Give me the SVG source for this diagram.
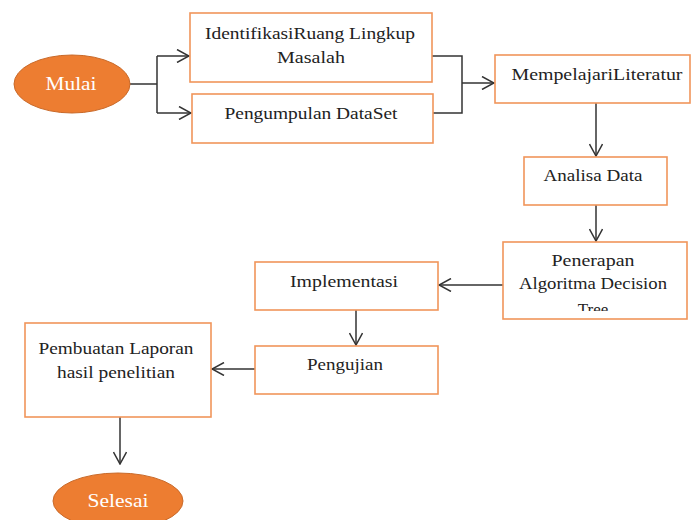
<svg xmlns="http://www.w3.org/2000/svg" width="692" height="520" viewBox="0 0 692 520">
<style>
.box{fill:#fff;stroke:#F1955A;stroke-width:1.6}
.term{fill:#ED7D31;stroke:#C96A2A;stroke-width:1}
.t{font-size:17px;fill:#222;text-anchor:middle}
.tw{font-size:19px;fill:#fff;text-anchor:middle}
.c{fill:none;stroke:#333;stroke-width:1.5}
</style>
<defs>
<marker id="ah" viewBox="0 0 14 14" refX="13" refY="7" markerWidth="14" markerHeight="14" markerUnits="userSpaceOnUse" orient="auto">
<path d="M1,0.5 L13,7 L1,13.5" fill="none" stroke="#333" stroke-width="1.5"/>
</marker>
<clipPath id="pclip"><rect x="503" y="242" width="184" height="69"/></clipPath>
</defs>
<g id="connectors">
<path class="c" d="M130,84 H157 M157,56 V113"/>
<path class="c" d="M157,56 H189" marker-end="url(#ah)"/>
<path class="c" d="M157,113 H191" marker-end="url(#ah)"/>
<path class="c" d="M432,56 H462 V113 H433"/>
<path class="c" d="M462,83 H494" marker-end="url(#ah)"/>
<path class="c" d="M596,103 V156" marker-end="url(#ah)"/>
<path class="c" d="M596,205 V241" marker-end="url(#ah)"/>
<path class="c" d="M503,285 H439" marker-end="url(#ah)"/>
<path class="c" d="M356,310 V345" marker-end="url(#ah)"/>
<path class="c" d="M255,369 H212" marker-end="url(#ah)"/>
<path class="c" d="M120,417 V464" marker-end="url(#ah)"/>
</g>
<g font-family="'Liberation Serif', 'DejaVu Serif', serif">
<g id="mulai">
<ellipse class="term" cx="72" cy="84" rx="58" ry="29"/>
<text class="tw" x="71" y="90" textLength="51" lengthAdjust="spacingAndGlyphs">Mulai</text>
</g>
<g id="identifikasi">
<rect class="box" x="190" y="13" width="242" height="69"/>
<text class="t" x="310" y="39" textLength="210" lengthAdjust="spacingAndGlyphs">IdentifikasiRuang Lingkup</text>
<text class="t" x="311" y="63" textLength="68" lengthAdjust="spacingAndGlyphs">Masalah</text>
</g>
<g id="pengumpulan">
<rect class="box" x="192" y="94" width="241" height="49"/>
<text class="t" x="311" y="119" textLength="173" lengthAdjust="spacingAndGlyphs">Pengumpulan DataSet</text>
</g>
<g id="mempelajari">
<rect class="box" x="495" y="55" width="195" height="48"/>
<text class="t" x="597" y="80" textLength="171" lengthAdjust="spacingAndGlyphs">MempelajariLiteratur</text>
</g>
<g id="analisa">
<rect class="box" x="524" y="157" width="143" height="48"/>
<text class="t" x="593" y="181" textLength="99" lengthAdjust="spacingAndGlyphs">Analisa Data</text>
</g>
<g id="penerapan">
<rect class="box" x="503" y="242" width="184" height="77"/>
<text class="t" x="593" y="266" textLength="83" lengthAdjust="spacingAndGlyphs">Penerapan</text>
<text class="t" x="593" y="289" textLength="148" lengthAdjust="spacingAndGlyphs">Algoritma Decision</text>
<text class="t" x="593" y="315" clip-path="url(#pclip)">Tree</text>
</g>
<g id="implementasi">
<rect class="box" x="255" y="262" width="183" height="48"/>
<text class="t" x="344" y="287" textLength="108" lengthAdjust="spacingAndGlyphs">Implementasi</text>
</g>
<g id="pengujian">
<rect class="box" x="255" y="346" width="183" height="48"/>
<text class="t" x="345" y="370" textLength="76" lengthAdjust="spacingAndGlyphs">Pengujian</text>
</g>
<g id="pembuatan">
<rect class="box" x="25" y="323" width="186" height="94"/>
<text class="t" x="116" y="354" textLength="155" lengthAdjust="spacingAndGlyphs">Pembuatan Laporan</text>
<text class="t" x="116" y="378" textLength="118" lengthAdjust="spacingAndGlyphs">hasil penelitian</text>
</g>
<g id="selesai">
<ellipse class="term" cx="118" cy="501" rx="65" ry="28"/>
<text class="tw" x="118" y="507" textLength="61" lengthAdjust="spacingAndGlyphs">Selesai</text>
</g>
</g>
</svg>
